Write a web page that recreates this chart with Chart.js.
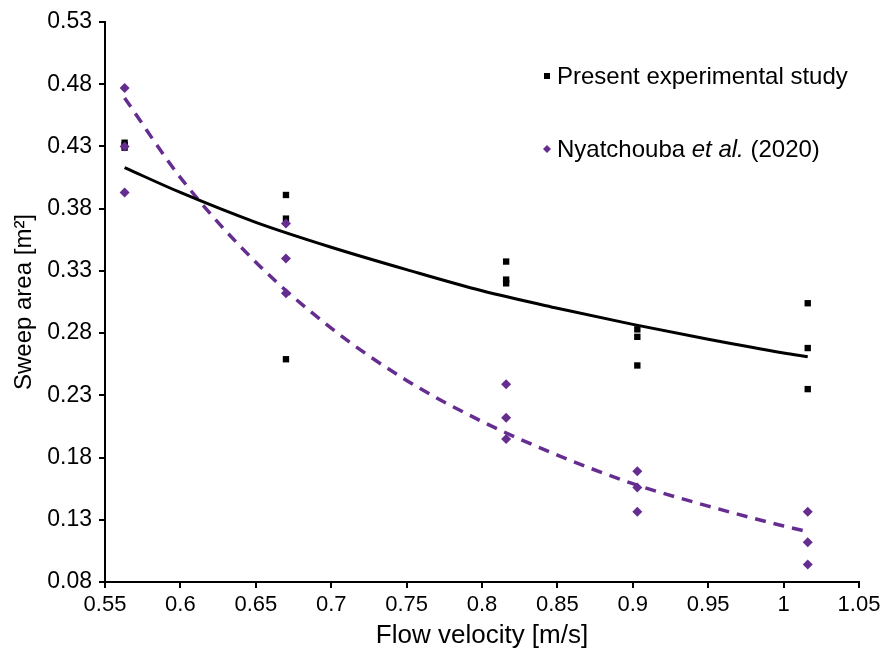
<!DOCTYPE html>
<html><head><meta charset="utf-8">
<script src="https://cdn.jsdelivr.net/npm/chart.js@4.4.1/dist/chart.umd.min.js"></script>
<style>html,body{margin:0;padding:0;background:#fff}#wrap{width:895px;height:648px}</style>
</head><body><div id="wrap"><canvas id="c" width="895" height="648"></canvas></div>
<script>
// Measured data points
const presentX = [0.563,0.563,0.563, 0.670,0.670,0.670, 0.816,0.816,0.816, 0.903,0.903,0.903, 1.016,1.016,1.016];
const presentY = [0.433,0.429,0.431, 0.391,0.372,0.259, 0.3375,0.323,0.320, 0.283,0.277,0.254, 0.304,0.268,0.235];
const nyatX = [0.563,0.563,0.563, 0.670,0.670,0.670, 0.816,0.816,0.816, 0.903,0.903,0.903, 1.016,1.016,1.016];
const nyatY = [0.477,0.430,0.393, 0.368,0.340,0.312, 0.239,0.212,0.195, 0.169,0.156,0.1365, 0.1365,0.112,0.094];
// Trend lines
const trendX = [0.563,0.6,0.65,0.7,0.75,0.8,0.85,0.9,0.95,1.0,1.016];
const presentTrend = [0.413,0.393,0.369,0.349,0.331,0.314,0.300,0.287,0.275,0.264,0.261];
const nyatTrend = [0.469,0.405,0.337,0.284,0.242,0.209,0.182,0.159,0.141,0.125,0.1205];
const xTicks = [0.55,0.6,0.65,0.7,0.75,0.8,0.85,0.9,0.95,1.0,1.05];
const yTicks = [0.08,0.13,0.18,0.23,0.28,0.33,0.38,0.43,0.48,0.53];
const legendLabels = ["Present experimental study", "Nyatchouba ", "et al.", " (2020)"];

const PURPLE = '#652d90';
const FONT = '"Liberation Sans", Arial, sans-serif';
const pts = (xs, ys) => xs.map((x,i)=>({x, y: ys[i]}));

const legendPlugin = {
  id: 'customLegend',
  afterDraw(chart){
    const ctx = chart.ctx;
    ctx.save();
    const font = '24px ' + FONT;
    const ifont = 'italic 24px ' + FONT;
    ctx.textBaseline = 'middle';
    ctx.fillStyle = '#000';
    ctx.fillRect(544, 73, 6, 6);
    ctx.font = font;
    ctx.fillText(legendLabels[0], 557, 77);
    ctx.fillStyle = PURPLE;
    ctx.beginPath();
    ctx.moveTo(547,145); ctx.lineTo(551,149); ctx.lineTo(547,153); ctx.lineTo(543,149); ctx.closePath(); ctx.fill();
    ctx.fillStyle = '#000';
    let x = 557;
    ctx.font = font; ctx.fillText(legendLabels[1], x, 150); x += ctx.measureText(legendLabels[1]).width;
    ctx.font = ifont; ctx.fillText(legendLabels[2], x, 150); x += ctx.measureText(legendLabels[2]).width;
    ctx.font = font; ctx.fillText(legendLabels[3], x, 150);
    ctx.restore();
  }
};

new Chart(document.getElementById('c'), {
  type: 'scatter',
  data: {
    datasets: [
      {data: pts(trendX, nyatTrend), type:'line', showLine:true, borderColor: PURPLE, borderWidth: 3.5, borderDash:[11,8], pointRadius:0, cubicInterpolationMode:'monotone', fill:false, order:3},
      {data: pts(trendX, presentTrend), type:'line', showLine:true, borderColor: '#000', borderWidth: 3, pointRadius:0, cubicInterpolationMode:'monotone', fill:false, order:2},
      {data: pts(presentX, presentY), pointStyle:'rect', pointRadius:4.5, backgroundColor:'#000', borderWidth:0, order:1},
      {data: pts(nyatX, nyatY), pointStyle:'rectRot', pointRadius:5, backgroundColor: PURPLE, borderWidth:0, order:0}
    ]
  },
  options: {
    responsive:false, animation:false,
    layout:{padding:{top:22, right:36, left:0, bottom:0}},
    plugins:{legend:{display:false}, tooltip:{enabled:false}},
    scales:{
      x:{type:'linear', min:0.55, max:1.05,
        afterBuildTicks(s){ s.ticks = xTicks.map(v=>({value:v})); },
        afterFit(s){ s.height = 66; },
        grid:{display:true, drawOnChartArea:false, drawTicks:true, tickLength:6, color:'#000', lineWidth:2},
        border:{color:'#000', width:2},
        ticks:{color:'#000', padding:4, maxRotation:0, autoSkip:false, font:{family:FONT, size:22},
          callback:(v)=>String(+Number(v).toFixed(2))},
        title:{display:true, text:'Flow velocity [m/s]', color:'#000', padding:{top:0,bottom:0}, font:{family:FONT, size:26, lineHeight:0.9}}
      },
      y:{type:'linear', min:0.08, max:0.53,
        afterBuildTicks(s){ s.ticks = yTicks.map(v=>({value:v})); },
        afterFit(s){ s.width = 105; },
        grid:{display:true, drawOnChartArea:false, drawTicks:true, tickLength:6, color:'#000', lineWidth:2},
        border:{color:'#000', width:2},
        ticks:{color:'#000', padding:7, font:{family:FONT, size:23},
          callback:(v)=>Number(v).toFixed(2)},
        title:{display:true, text:'Sweep area [m²]', color:'#000', padding:{top:10,bottom:0}, font:{family:FONT, size:24}}
      }
    }
  },
  plugins:[legendPlugin]
});
</script></body></html>
